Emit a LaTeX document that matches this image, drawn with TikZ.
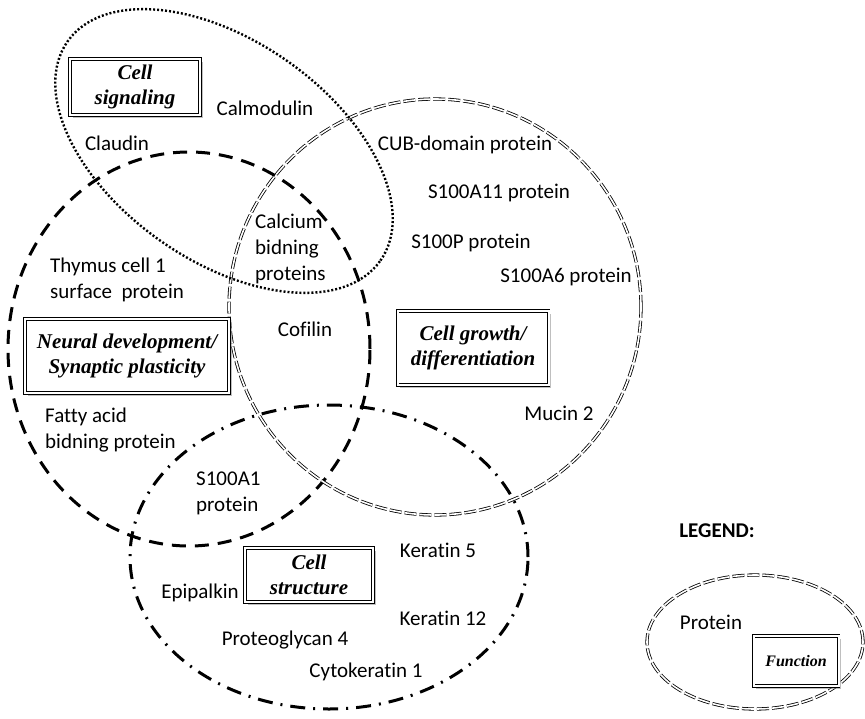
\documentclass[tikz,border=0pt]{standalone}
\usepackage{fontspec}
\setmainfont{Carlito}[Ligatures=NoCommon]
\newfontfamily\tnr{Liberation Serif}
\usetikzlibrary{shadows}
\newcommand{\bt}{\fontsize{21}{26}\selectfont}
\newcommand{\fn}{\tnr\bfseries\itshape\fontsize{21}{25}\selectfont}

\begin{document}
\begin{tikzpicture}[x=1pt,y=-1pt,
   every node/.style={font=\bt,inner sep=0pt,align=left},
   fbox/.style={draw,double,double distance=2pt,line width=0.7pt,fill=white,
     align=center,font=\fn,inner sep=3pt,
     drop shadow={opacity=0.5,shadow xshift=2.5pt,shadow yshift=-2.5pt}},
   sig/.style={line width=2.4pt,dash pattern=on 2pt off 2pt},
   neu/.style={line width=3pt,dash pattern=on 14pt off 9pt},
   gro/.style={double,double distance=1.6pt,line width=0.8pt,dash pattern=on 12pt off 3pt},
   str/.style={line width=3pt,dash pattern=on 15pt off 8pt on 2pt off 8pt}]
   \useasboundingbox (0,0) rectangle (865,718);
   \draw[neu] (189,349) ellipse [x radius=181pt,y radius=197pt];
   \draw[gro] (435,307) ellipse [x radius=206pt,y radius=208pt];
   \draw[str] (329,557) ellipse [x radius=199pt,y radius=152pt];
   \draw[sig,rotate around={-35:(224,151)}] (224,151) ellipse [x radius=191pt,y radius=110pt];
   \draw[gro] (755,642) ellipse [x radius=108pt,y radius=67pt];

   \node[fbox,minimum width=130,minimum height=56] (signal) at (135,87) {Cell\\signaling};
   \node[fbox,minimum width=204,minimum height=74] (neural) at (127,356) {Neural development/\\Synaptic plasticity};
   \node[fbox,minimum width=151,minimum height=74] (growth) at (473,348) {Cell growth/\\differentiation};
   \node[fbox,minimum width=128,minimum height=54] (struct) at (309,575) {Cell\\structure};
   \node[fbox,minimum width=85,minimum height=50,font=\tnr\bfseries\itshape\fontsize{16}{19}\selectfont] (func) at (796,661) {Function};

   \node (calm)  at (265,108) {Calmodulin};
   \node (claud) at (117,143) {Claudin};
   \node (cub)   at (465,145) {CUB-domain protein};
   \node (a11)   at (499,193) {S100A11 protein};
   \node (s100p) at (471,243) {S100P protein};
   \node (a6)    at (566,277) {S100A6 protein};
   \node[anchor=west] (calc) at (255,249) {Calcium\\bidning\\proteins};
   \node (cof)   at (305,329) {Cofilin};
   \node (muc)   at (559,413) {Mucin 2};
   \node[anchor=west] (thy)  at (50,280) {Thymus cell 1\\surface~~protein};
   \node[anchor=west] (fat)  at (45,430) {Fatty acid\\bidning protein};
   \node[anchor=west] (a1)   at (196,493) {S100A1\\protein};
   \node (k5)    at (438,550) {Keratin 5};
   \node (epi)   at (200,593) {Epipalkin};
   \node (k12)   at (443,618) {Keratin 12};
   \node (prot4) at (285,640) {Proteoglycan 4};
   \node (ck1)   at (366,672) {Cytokeratin 1};

   \node[font=\bt\bfseries] (leg) at (717,531) {LEGEND:};
   \node (prot)  at (711,622) {Protein};
\end{tikzpicture}
\end{document}
